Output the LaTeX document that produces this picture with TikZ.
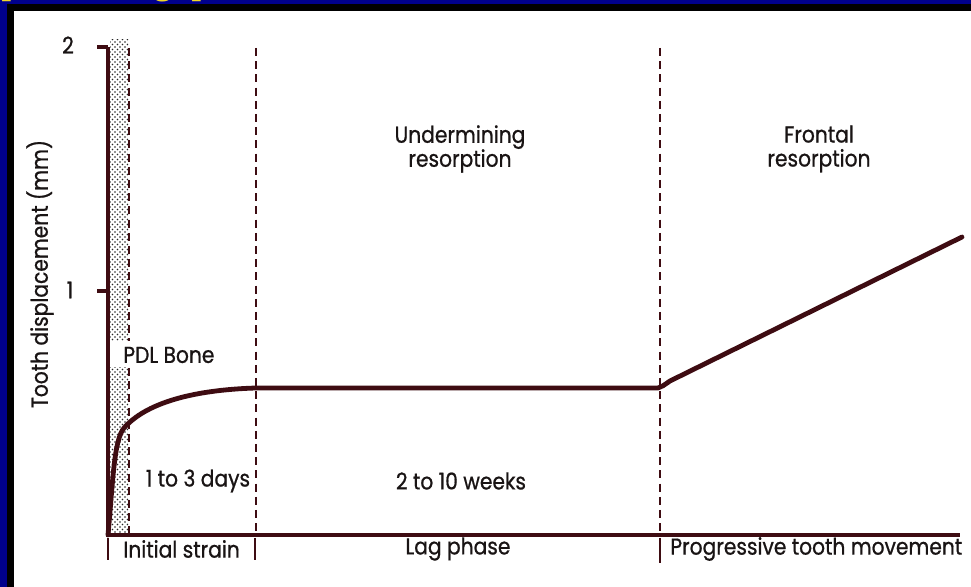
\documentclass[tikz,border=0pt]{standalone}
\usepackage{fontspec}
\setmainfont{Poppins}
\newfontfamily\chartfont[FakeBold=0.8, FakeStretch=0.88]{Poppins}
\newfontfamily\titlefont{Liberation Serif}
\usetikzlibrary{positioning, patterns}
\definecolor{navy}{RGB}{0,0,140}
\definecolor{maroon}{RGB}{62,12,18}
\definecolor{ink}{RGB}{25,20,20}
\definecolor{titleyellow}{RGB}{240,215,40}
% small dots for the PDL/bone band
\pgfdeclarepatternformonly{finedots}{\pgfqpoint{-.75pt}{-.75pt}}{\pgfqpoint{1.75pt}{1.75pt}}{\pgfqpoint{2.5pt}{2.5pt}}{
  \pgfpathcircle{\pgfqpoint{0pt}{0pt}}{.45pt}
  \pgfpathcircle{\pgfqpoint{1.25pt}{1.25pt}}{.45pt}
  \pgfusepath{fill}
}
\tikzset{
x=0.5pt, y=-0.5pt, % one unit is one pixel of the slide, y runs downwards
txt/.style={font=\chartfont\fontsize{11.5}{12}\selectfont, text=ink, inner sep=0pt}, % every label of the chart
titletxt/.style={font=\titlefont\bfseries\fontsize{17}{20}\selectfont, text=titleyellow, inner sep=0pt},
phase/.style={draw=maroon, line width=1.2pt, dash pattern=on 4pt off 2.6pt}, % phase borders
axis/.style={draw=maroon, line width=1.6pt},
bar/.style={draw=maroon, line width=1.1pt},
curve/.style={draw=maroon, line width=2.4pt, line join=round, line cap=round},
band/.style={pattern=finedots, pattern color=black!85},
}

\begin{document}
\begin{tikzpicture}
    \useasboundingbox (0,0) rectangle (971,587);
    % slide frame
    \fill[navy] (0,0) rectangle (971,587);
    \fill[black] (7,4) rectangle (971,587);
    \fill[white] (14,11) rectangle (971,587);
    % title, cut off by the slide edge
    \begin{scope}
        \clip (0,0) rectangle (971,4);
        \node[titletxt, anchor=base] (ta) at (11,-5) {p};
        \node[titletxt, anchor=base] (tb) at (163,-5) {g};
        \node[titletxt, anchor=base] (tc) at (201,-5) {p};
    \end{scope}

    \coordinate (o) at (108,535);
    \coordinate (t2) at (108,47);
    \coordinate (t1) at (108,291);
    \coordinate (xend) at (960,535);
    \coordinate (s1) at (256,388);
    \coordinate (s2) at (658,388);
    \coordinate (s3) at (670,381);
    \coordinate (s4) at (962,237);

    % PDL and bone band, broken by its label
    \fill[band] (110,40) rectangle (128,341);
    \fill[band] (110,368) rectangle (128,535);

    % phase borders
    \draw[phase] (129,48) -- (129,341);
    \draw[phase] (129,368) -- (129,535);
    \draw[phase] (256,48) -- (256,535);
    \draw[phase] (660,48) -- (660,535);

    % axes
    \draw[axis] (t2) -- (o) -- (xend);
    \draw[axis] (t2) -- ++(-11,0);
    \draw[axis] (t1) -- ++(-11,0);
    \draw[bar] (108,538) -- (108,560);
    \draw[bar] (255,538) -- (255,560);
    \draw[bar] (660,538) -- (660,563);

    \node[txt] (n2) at (68,45) {2};
    \node[txt] (n1) at (70,290) {1};
    \node[txt, rotate=90] (ylab) at (40,274) {Tooth displacement (mm)};
    \node[txt, anchor=west] (pdl) at (123,355) {PDL Bone};

    % displacement curve
    \draw[curve] (o) .. controls (113,480) and (114,440) .. (124,428)
                 .. controls (145,404) and (190,390) .. (s1)
                 -- (s2) .. controls (662,387) and (664,385) .. (s3) -- (s4);

    \node[txt, align=center] (under) at (460,149) {Undermining\\resorption};
    \node[txt, align=center] (front) at (819,149) {Frontal\\resorption};
    \node[txt] (days) at (198,481) {1 to 3 days};
    \node[txt] (weeks) at (461,481) {2 to 10 weeks};
    \node[txt, anchor=west] (init) at (123,549) {Initial strain};
    \node[txt] (lag) at (458,549) {Lag phase};
    \node[txt, anchor=west] (prog) at (670,549) {Progressive tooth movement};
\end{tikzpicture}
\end{document}
